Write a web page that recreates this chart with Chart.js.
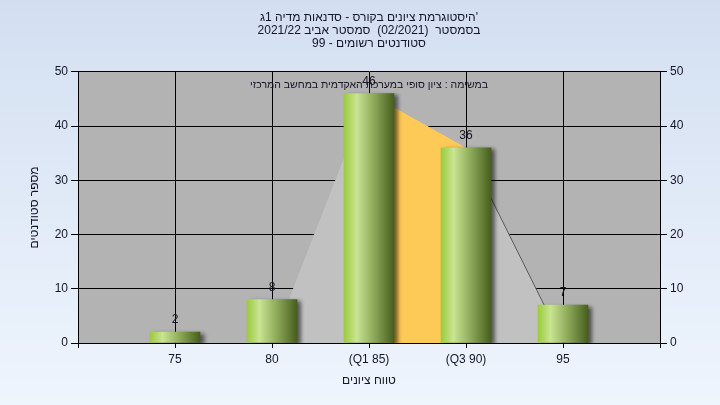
<!DOCTYPE html>
<html><head><meta charset="utf-8">
<script src="https://cdn.jsdelivr.net/npm/chart.js@4/dist/chart.umd.min.js"></script>
<style>html,body{margin:0;padding:0;background:#e5edf8;overflow:hidden}canvas{display:block}</style>
</head><body>
<canvas id="c" dir="rtl" width="720" height="405" style="direction:rtl"></canvas>
<script>
const titleLines = [
  "'היסטוגרמת ציונים בקורס - סדנאות מדיה 1ג",
  "בסמסטר  (02/2021)  סמסטר אביב 2021/22",
  "סטודנטים רשומים - 99"
];
const seriesLabel = 'במשימה : ציון סופי במערכת האקדמית במחשב המרכזי';
const xTitle = 'טווח ציונים';
const yTitle = 'מספר סטודנטים';
const gradeValues = [75, 80, 85, 90, 95];
const tickLabels = ['75', '80', '(Q1 85)', '(Q3 90)', '95'];
const studentCounts = [2, 8, 46, 36, 7];
const curveX = [80, 85, 90, 95];
const curveY = [0, 46, 36, 0];
const iqrX = [85, 90];
const iqrY = [46, 36];

const FONT = "'Liberation Sans', Arial, sans-serif";
const TXT = '#15152a';

const bgPlugin = {
  id: 'bg',
  beforeDraw(chart) {
    const {ctx, width, height, chartArea: a} = chart;
    ctx.save();
    const g = ctx.createLinearGradient(0, 0, 0, height);
    g.addColorStop(0, '#d3dff1');
    g.addColorStop(1, '#eef5fd');
    ctx.fillStyle = g;
    ctx.fillRect(0, 0, width, height);
    ctx.fillStyle = '#b3b3b3';
    ctx.fillRect(a.left, a.top, a.right - a.left, a.bottom - a.top);
    ctx.restore();
    ctx.direction = 'rtl';
  },
  beforeDatasetDraw(chart, args) {
    if (args.meta.type === 'bar') {
      const ctx = chart.ctx;
      ctx.save();
      ctx.shadowColor = 'rgba(0,0,0,0.55)';
      ctx.shadowBlur = 4;
      ctx.shadowOffsetX = 4;
      ctx.shadowOffsetY = 2;
    }
  },
  afterDatasetDraw(chart, args) {
    if (args.meta.type === 'bar') chart.ctx.restore();
  },
  afterDatasetsDraw(chart) {
    const {ctx, chartArea: a} = chart;
    ctx.save();
    ctx.direction = 'rtl';
    ctx.fillStyle = TXT;
    ctx.textAlign = 'center';
    ctx.textBaseline = 'middle';
    ctx.font = '10.5px ' + FONT;
    ctx.fillText(seriesLabel, (a.left + a.right) / 2, a.top + 13);
    ctx.font = '12px ' + FONT;
    const meta = chart.getDatasetMeta(0);
    meta.data.forEach((el, i) => {
      ctx.fillText(String(studentCounts[i]), el.x, el.y - 12);
    });
    ctx.restore();
  }
};

function barGradient(c) {
  const chart = c.chart;
  const xs = chart.scales.x;
  if (!xs || !chart.chartArea || c.parsed === undefined) return '#a0cc48';
  const px = xs.getPixelForValue(c.parsed.x);
  const g = chart.ctx.createLinearGradient(px - 25, 0, px + 25, 0);
  g.addColorStop(0, '#9ccb3c');
  g.addColorStop(0.25, '#c9e492');
  g.addColorStop(0.6, '#8ca95a');
  g.addColorStop(1, '#475e1e');
  return g;
}

const tickFont = {family: FONT, size: 12};

new Chart(document.getElementById('c'), {
  data: {
    datasets: [
      {
        type: 'bar',
        order: 0,
        data: gradeValues.map((x, i) => ({x: x, y: studentCounts[i]})),
        backgroundColor: barGradient,
        borderWidth: 0,
        barThickness: 50
      },
      {
        type: 'line',
        order: 1,
        data: iqrX.map((x, i) => ({x: x, y: iqrY[i]})),
        fill: 'origin',
        backgroundColor: '#fdc957',
        borderWidth: 0,
        borderColor: 'rgba(0,0,0,0)',
        pointRadius: 0,
        tension: 0
      },
      {
        type: 'line',
        order: 2,
        data: curveX.map((x, i) => ({x: x, y: curveY[i]})),
        fill: 'origin',
        backgroundColor: '#c1c1c1',
        borderWidth: 1,
        borderColor: '#5a5a5a',
        segment: {
          borderColor: s => s.p0DataIndex === 2 ? '#5a5a5a' : 'rgba(0,0,0,0)'
        },
        pointRadius: 0,
        tension: 0
      }
    ]
  },
  options: {
    responsive: false,
    animation: false,
    devicePixelRatio: 1,
    layout: {padding: 0},
    plugins: {
      legend: {display: false},
      tooltip: {enabled: false},
      title: {
        display: true,
        fullSize: false,
        text: titleLines,
        color: TXT,
        font: {family: FONT, size: 12, weight: 'normal', lineHeight: 1.08},
        padding: {top: 11, bottom: 22}
      }
    },
    scales: {
      x: {
        type: 'linear',
        offset: false,
        min: 70,
        max: 100,
        afterFit(s) { s.height = 62; },
        ticks: {
          stepSize: 5,
          color: TXT,
          font: tickFont,
          padding: 4,
          maxRotation: 0,
          autoSkip: false,
          callback: v => {
            const i = gradeValues.indexOf(v);
            return i >= 0 ? tickLabels[i] : '';
          }
        },
        grid: {offset: false, color: '#000', lineWidth: 1, tickLength: 5, drawOnChartArea: true},
        border: {color: '#000', width: 1},
        title: {display: true, text: xTitle, color: TXT, font: {family: FONT, size: 12}, padding: {top: 0, bottom: 17}}
      },
      y: {
        position: 'left',
        min: 0,
        max: 50,
        afterFit(s) { s.width = 78; },
        ticks: {stepSize: 10, color: TXT, font: tickFont, padding: 3},
        grid: {color: '#000', lineWidth: 1, tickLength: 7},
        border: {color: '#000', width: 1},
        title: {display: true, text: yTitle, color: TXT, font: {family: FONT, size: 12}, padding: {top: 27, bottom: 0}}
      },
      y2: {
        position: 'right',
        min: 0,
        max: 50,
        afterFit(s) { s.width = 60; },
        ticks: {stepSize: 10, color: TXT, font: tickFont, padding: 3},
        grid: {color: '#000', lineWidth: 1, tickLength: 7, drawOnChartArea: false},
        border: {color: '#000', width: 1}
      }
    }
  },
  plugins: [bgPlugin]
});
</script>
</body></html>
